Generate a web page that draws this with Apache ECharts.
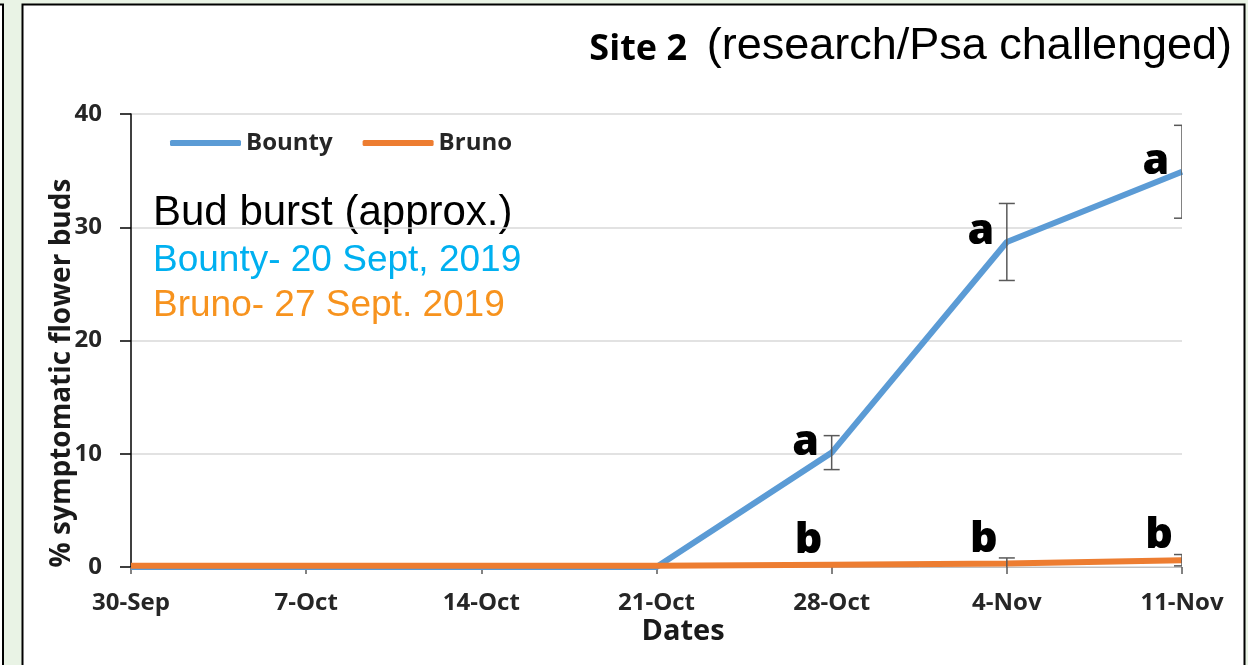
<!DOCTYPE html>
<html><head><meta charset="utf-8">
<script src="https://cdn.jsdelivr.net/npm/echarts@6/dist/echarts.min.js"></script>
<style>html,body{margin:0;padding:0;background:#e9f3e5}#c{width:1248px;height:665px}</style>
</head><body><div id="c"></div>
<script>
const dates = ['30-Sep','7-Oct','14-Oct','21-Oct','28-Oct','4-Nov','11-Nov'];
const bounty = [0, 0, 0, 0, 10.1, 28.7, 34.9];
const bountyErr = [0, 0, 0, 0, 1.5, 3.4, 4.1];
const bountyLetters = ['', '', '', '', 'a', 'a', 'a'];
const bruno = [0.1, 0.1, 0.1, 0.1, 0.2, 0.3, 0.6];
const brunoErr = [0, 0, 0, 0, 0, 0.5, 0.5];
const brunoLetters = ['', '', '', '', 'b', 'b', 'b'];
const yTicks = [0, 10, 20, 30, 40];

const chart = echarts.init(document.getElementById('c'), null, {renderer: 'canvas'});
const BOLD = 'Open Sans';

function errSeries(name, vals, errs) {
  return {
    type: 'custom', name: name, clip: true, z: 5, silent: true,
    data: vals.map((v, i) => [i, v - errs[i], v + errs[i], errs[i]]),
    encode: {x: 0, y: [1, 2]},
    renderItem: function (params, api) {
      if (!api.value(3)) return null;
      const lo = api.coord([api.value(0), api.value(1)]);
      const hi = api.coord([api.value(0), api.value(2)]);
      const w = 8, x = lo[0];
      const st = {stroke: '#595959', lineWidth: 1.5};
      return {type: 'group', children: [
        {type: 'line', shape: {x1: x, y1: hi[1], x2: x, y2: lo[1]}, style: st},
        {type: 'line', shape: {x1: x - w, y1: hi[1], x2: x + w, y2: hi[1]}, style: st},
        {type: 'line', shape: {x1: x - w, y1: lo[1], x2: x + w, y2: lo[1]}, style: st}
      ]};
    }
  };
}
function letterSeries(vals, letters, offset) {
  return {
    type: 'scatter', name: 'letters', z: 6, silent: true,
    symbolSize: 1, itemStyle: {color: 'rgba(0,0,0,0)'},
    data: vals,
    label: {
      show: true, position: 'inside', offset: offset,
      formatter: p => letters[p.dataIndex],
      fontFamily: BOLD, fontWeight: 800, fontSize: 43, color: '#000', opacity: 1
    }
  };
}

chart.setOption({
  backgroundColor: '#e9f3e5',
  animation: false,
  grid: {left: 131, right: 66, top: 114, bottom: 98},
  legend: {
    data: ['Bounty', 'Bruno'], left: 170, top: 131, padding: 0,
    icon: 'roundRect', itemWidth: 71, itemHeight: 6, itemGap: 30,
    textStyle: {fontFamily: BOLD, fontWeight: 'bold', fontSize: 24, color: '#262626'}
  },
  xAxis: {
    type: 'category', data: dates, boundaryGap: false,
    axisLine: {show: true, lineStyle: {color: '#bfbfbf', width: 1}},
    axisTick: {show: true, length: 7, lineStyle: {color: '#595959', width: 1.5}},
    axisLabel: {margin: 24, fontFamily: BOLD, fontWeight: 'bold', fontSize: 24, color: '#262626'},
    splitLine: {show: false}
  },
  yAxis: {
    type: 'value', min: yTicks[0], max: yTicks[yTicks.length - 1], interval: yTicks[1] - yTicks[0],
    axisLine: {show: true, lineStyle: {color: '#000', width: 1.5}},
    axisTick: {show: true, length: 11, lineStyle: {color: '#000', width: 1.5}},
    axisLabel: {margin: 29, fontFamily: BOLD, fontWeight: 'bold', fontSize: 24, color: '#262626'},
    splitLine: {show: true, lineStyle: {color: '#d9d9d9', width: 1.5}}
  },
  graphic: [
    {type: 'rect', z: -10, shape: {x: -100, y: 4.5, width: 103, height: 700}, style: {fill: '#fff', stroke: '#000', lineWidth: 2}},
    {type: 'rect', z: -10, shape: {x: 22.5, y: 4.5, width: 1222, height: 700}, style: {fill: '#fff', stroke: '#000', lineWidth: 2}},
    {type: 'text', x: 687, y: 50, style: {text: 'Site 2', fontFamily: BOLD, fontWeight: 'bold', fontSize: 36, fill: '#000', align: 'right', verticalAlign: 'middle'}},
    {type: 'text', x: 1232, y: 47, style: {text: '(research/Psa challenged)', fontFamily: 'Liberation Sans', fontSize: 45, fill: '#000', align: 'right', verticalAlign: 'middle'}},
    {type: 'text', x: 153, y: 213, style: {text: 'Bud burst (approx.)', fontFamily: 'Liberation Sans', fontSize: 42, fill: '#000', align: 'left', verticalAlign: 'middle'}},
    {type: 'text', x: 153, y: 261, style: {text: 'Bounty- 20 Sept, 2019', fontFamily: 'Liberation Sans', fontSize: 37, fill: '#00b0f0', align: 'left', verticalAlign: 'middle'}},
    {type: 'text', x: 153, y: 306, style: {text: 'Bruno- 27 Sept. 2019', fontFamily: 'Liberation Sans', fontSize: 37, fill: '#f7931e', align: 'left', verticalAlign: 'middle'}},
    {type: 'text', x: 62, y: 373, rotation: Math.PI / 2, style: {text: '% symptomatic flower buds', fontFamily: BOLD, fontWeight: 'bold', fontSize: 28, fill: '#1a1a1a', align: 'center', verticalAlign: 'middle'}},
    {type: 'text', x: 683, y: 632, style: {text: 'Dates', fontFamily: BOLD, fontWeight: 'bold', fontSize: 29, fill: '#1a1a1a', align: 'center', verticalAlign: 'middle'}}
  ],
  series: [
    {name: 'Bounty', type: 'line', data: bounty, symbol: 'none', z: 3,
     lineStyle: {color: '#5b9bd5', width: 6}, itemStyle: {color: '#5b9bd5'}},
    {name: 'Bruno', type: 'line', data: bruno, symbol: 'none', z: 4,
     lineStyle: {color: '#ed7d31', width: 6}, itemStyle: {color: '#ed7d31'}},
    errSeries('Bounty err', bounty, bountyErr),
    errSeries('Bruno err', bruno, brunoErr),
    letterSeries(bounty, bountyLetters, [-26, -10]),
    letterSeries(bruno, brunoLetters, [-23, -24])
  ]
});
</script>
</body></html>
